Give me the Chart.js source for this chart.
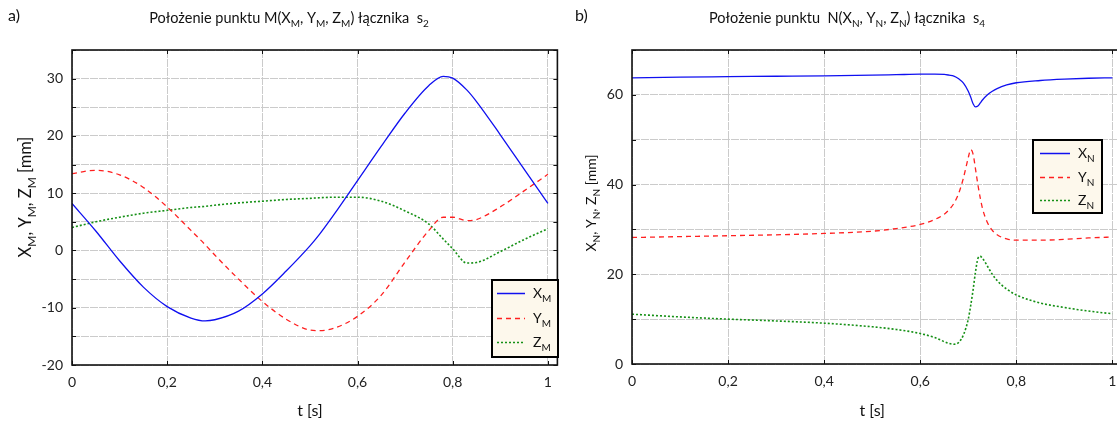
<!DOCTYPE html>
<html>
<head>
<meta charset="utf-8">
<script src="https://cdn.jsdelivr.net/npm/chart.js@4.4.0/dist/chart.umd.min.js"></script>
<style>
  html, body { margin: 0; padding: 0; background: #fff; overflow: hidden; width: 1117px; height: 421px; }
  .panel { position: absolute; top: 0; }
  #panelA { left: 0; }
  #panelB { left: 560px; }
</style>
</head>
<body>
<div class="panel" id="panelA"><canvas id="chartA" width="561" height="421"></canvas></div>
<div class="panel" id="panelB"><canvas id="chartB" width="570" height="421"></canvas></div>
<script>
// ---- panel a) : point M of link s2 ----
const tA = [0, 0.05, 0.1, 0.15, 0.2, 0.25, 0.28, 0.3, 0.35, 0.4, 0.45, 0.5, 0.52, 0.55, 0.6, 0.65, 0.7, 0.75, 0.78, 0.8, 0.83, 0.85, 0.9, 0.95, 1];
const XM = [8.2, 3.4, -1.8, -6.4, -9.8, -11.8, -12.3, -12.1, -10.6, -7.6, -3.6, 0.8, 2.8, 6.2, 12.2, 18.2, 24.0, 28.8, 30.4, 30.1, 28.0, 26.0, 20.2, 14.2, 8.2];
const YM = [13.4, 14.0, 13.2, 11.0, 7.6, 3.5, 1.0, -0.8, -5.0, -8.9, -12.0, -13.9, -14.0, -13.6, -11.5, -7.8, -2.0, 3.5, 5.8, 5.8, 5.2, 5.4, 7.6, 10.4, 13.3];
const ZM = [4.0, 5.0, 5.8, 6.5, 7.0, 7.5, 7.7, 7.9, 8.3, 8.6, 8.9, 9.1, 9.2, 9.3, 9.3, 8.6, 6.9, 4.6, 2.0, 0.3, -2.2, -2.1, -0.2, 1.9, 3.8];

// ---- panel b) : point N of link s4 ----
const tB = [0, 0.1, 0.2, 0.3, 0.4, 0.5, 0.55, 0.6, 0.63, 0.65, 0.66, 0.67, 0.68, 0.69, 0.7, 0.705, 0.71, 0.715, 0.72, 0.725, 0.73, 0.74, 0.75, 0.76, 0.78, 0.8, 0.85, 0.9, 0.95, 1];
const XN = [63.8, 63.95, 64.05, 64.15, 64.25, 64.4, 64.5, 64.6, 64.6, 64.55, 64.4, 64.2, 63.6, 62.6, 60.8, 59.5, 58.0, 57.3, 57.5, 58.2, 58.9, 60.0, 60.8, 61.4, 62.2, 62.7, 63.2, 63.5, 63.7, 63.8];
const YN = [28.2, 28.4, 28.6, 28.8, 29.1, 29.6, 30.2, 31.1, 32.2, 33.4, 34.4, 35.8, 38.0, 41.5, 46.0, 47.8, 46.8, 43.5, 40.0, 37.0, 34.5, 31.5, 29.8, 28.8, 27.9, 27.6, 27.6, 27.8, 28.1, 28.3];
const ZN = [11.1, 10.5, 10.0, 9.6, 9.1, 8.3, 7.7, 6.8, 5.9, 5.0, 4.6, 4.4, 4.8, 6.5, 10.0, 13.0, 16.5, 20.5, 23.5, 24.0, 23.5, 21.8, 20.0, 18.6, 16.7, 15.4, 13.6, 12.6, 11.8, 11.2];

const xTickLabels = { 0: '0', 0.2: '0,2', 0.4: '0,4', 0.6: '0,6', 0.8: '0,8', 1: '1' };
const yTicksA = [-20, -10, 0, 10, 20, 30];
const yTicksB = [0, 20, 40, 60];

const FONT = 'Lato, "Open Sans", sans-serif';
const BLUE = '#1010f0', RED = '#ff2020', GREEN = '#159015';

function pts(t, v) { return t.map((x, i) => ({ x: x, y: v[i] })); }

// text with subscripts; parts = [[text, isSub], ...]
function rich(ctx, parts, x, y, size, align) {
  const main = size + 'px ' + FONT, sub = Math.round(size * 0.72) + 'px ' + FONT;
  let w = 0;
  parts.forEach(p => { ctx.font = p[1] ? sub : main; w += ctx.measureText(p[0]).width; });
  let cx = align === 'center' ? x - w / 2 : (align === 'right' ? x - w : x);
  ctx.textAlign = 'left';
  ctx.textBaseline = 'alphabetic';
  parts.forEach(p => {
    ctx.font = p[1] ? sub : main;
    ctx.fillText(p[0], cx, y + (p[1] ? size * 0.3 : 0));
    cx += ctx.measureText(p[0]).width;
  });
}

const decorCfg = {
  chartA: {
    letter: 'a)', letterX: 8, titleX: 289,
    title: [['Położenie punktu M(X', 0], ['M', 1], [', Y', 0], ['M', 1], [', Z', 0], ['M', 1], [') łącznika  s', 0], ['2', 1]],
    yTitle: [['X', 0], ['M', 1], [', Y', 0], ['M', 1], [', Z', 0], ['M', 1], [' [mm]', 0]],
    yTitleX: 26, yTitleY: 197, yTitleSize: 16.5,
    legend: { x: 492, y: 280, w: 66, h: 77, rows: [293, 318, 342], sx: 497, ex: 525, tx: 533, sub: 'M' }
  },
  chartB: {
    letter: 'b)', letterX: 15, titleX: 287,
    title: [['Położenie punktu  N(X', 0], ['N', 1], [', Y', 0], ['N', 1], [', Z', 0], ['N', 1], [') łącznika  s', 0], ['4', 1]],
    yTitle: [['X', 0], ['N', 1], [', Y', 0], ['N', 1], [', Z', 0], ['N', 1], [' [mm]', 0]],
    yTitleX: 31, yTitleY: 203, yTitleSize: 14,
    legend: { x: 473, y: 140, w: 69, h: 73, rows: [153, 177, 200], sx: 480, ex: 510, tx: 518, sub: 'N' }
  }
};

const decor = {
  id: 'decor',
  afterDatasetsDraw(chart) {
    const cfg = decorCfg[chart.canvas.id];
    const ctx = chart.ctx;
    const a = chart.chartArea;
    const xs = chart.scales.x, ys = chart.scales.y;
    ctx.save();

    // frame around the plot
    ctx.strokeStyle = '#111';
    ctx.lineWidth = 1.6;
    ctx.strokeRect(a.left, a.top, a.right - a.left, a.bottom - a.top);

    // inward tick marks on all four sides
    ctx.lineWidth = 1;
    ctx.beginPath();
    xs.ticks.forEach(tk => {
      const px = Math.round(xs.getPixelForValue(tk.value)) + 0.5;
      ctx.moveTo(px, a.bottom); ctx.lineTo(px, a.bottom - 4);
      ctx.moveTo(px, a.top); ctx.lineTo(px, a.top + 4);
    });
    ys.ticks.forEach(tk => {
      const py = Math.round(ys.getPixelForValue(tk.value)) + 0.5;
      ctx.moveTo(a.left, py); ctx.lineTo(a.left + 4, py);
      ctx.moveTo(a.right, py); ctx.lineTo(a.right - 4, py);
    });
    ctx.stroke();

    ctx.fillStyle = '#111';
    // panel letter
    ctx.font = '16px ' + FONT;
    ctx.textAlign = 'left';
    ctx.textBaseline = 'alphabetic';
    ctx.fillText(cfg.letter, cfg.letterX, 21);

    // chart title
    rich(ctx, cfg.title, cfg.titleX, 23, 14.5, 'center');

    // x axis title
    ctx.font = '16px ' + FONT;
    ctx.textAlign = 'center';
    ctx.fillText('t [s]', (a.left + xs.getPixelForValue(1)) / 2, 416);

    // y axis title (rotated)
    ctx.save();
    ctx.translate(cfg.yTitleX, cfg.yTitleY);
    ctx.rotate(-Math.PI / 2);
    rich(ctx, cfg.yTitle, 0, 5, cfg.yTitleSize, 'center');
    ctx.restore();

    // legend
    const L = cfg.legend;
    ctx.fillStyle = '#fdf8ec';
    ctx.fillRect(L.x, L.y, L.w, L.h);
    ctx.strokeStyle = '#000';
    ctx.lineWidth = 2;
    ctx.strokeRect(L.x, L.y, L.w, L.h);
    const styles = [[BLUE, []], [RED, [5, 4]], [GREEN, [2, 2]]];
    const names = ['X', 'Y', 'Z'];
    L.rows.forEach((ry, i) => {
      ctx.strokeStyle = styles[i][0];
      ctx.setLineDash(styles[i][1]);
      ctx.lineWidth = 1.5;
      ctx.beginPath();
      ctx.moveTo(L.sx, ry + 0.5); ctx.lineTo(L.ex, ry + 0.5);
      ctx.stroke();
      ctx.setLineDash([]);
      ctx.fillStyle = '#111';
      rich(ctx, [[names[i], 0], [L.sub, 1]], L.tx, ry + 5, 14, 'left');
    });

    ctx.restore();
  }
};

function makeChart(id, t, series, yMin, yMax, yStep, yLabels, xAxisH, padRight) {
  const labelSet = new Set(yLabels);
  return new Chart(document.getElementById(id), {
    type: 'line',
    data: {
      datasets: [
        { data: pts(t, series[0]), borderColor: BLUE, borderWidth: 1.3, borderDash: [] },
        { data: pts(t, series[1]), borderColor: RED, borderWidth: 1.3, borderDash: [5, 4] },
        { data: pts(t, series[2]), borderColor: GREEN, borderWidth: 1.6, borderDash: [2, 2] }
      ]
    },
    options: {
      responsive: false,
      animation: false,
      devicePixelRatio: 1,
      layout: { padding: { left: 0, top: 50, right: padRight, bottom: 0 } },
      elements: {
        point: { radius: 0, hoverRadius: 0 },
        line: { cubicInterpolationMode: 'monotone', fill: false }
      },
      plugins: { legend: { display: false }, tooltip: { enabled: false }, title: { display: false } },
      events: [],
      scales: {
        x: {
          type: 'linear', min: 0, max: 1.02,
          afterFit(s) { s.height = xAxisH; },
          grid: { color: '#cbcbcb', lineWidth: 1, drawTicks: false },
          border: { display: false, dash: [8, 1] },
          ticks: {
            stepSize: 0.2, includeBounds: false, padding: 9, color: '#222',
            font: { family: FONT, size: 14 },
            callback(v) { const k = Math.round(v * 10) / 10; return xTickLabels[k] !== undefined ? xTickLabels[k] : ''; }
          }
        },
        y: {
          type: 'linear', min: yMin, max: yMax,
          afterFit(s) { s.width = 72; },
          grid: { color: '#cbcbcb', lineWidth: 1, drawTicks: false },
          border: { display: false, dash: [8, 1] },
          ticks: {
            stepSize: yStep, padding: 9, color: '#222',
            font: { family: FONT, size: 14 },
            callback(v) { return labelSet.has(v) ? String(v) : ''; }
          }
        }
      }
    },
    plugins: [decor]
  });
}

makeChart('chartA', tA, [XM, YM, ZM], -20, 35, 5, yTicksA, 56, 3);
makeChart('chartB', tB, [XN, YN, ZN], 0, 70, 10, yTicksB, 57, 8);
</script>
</body>
</html>
